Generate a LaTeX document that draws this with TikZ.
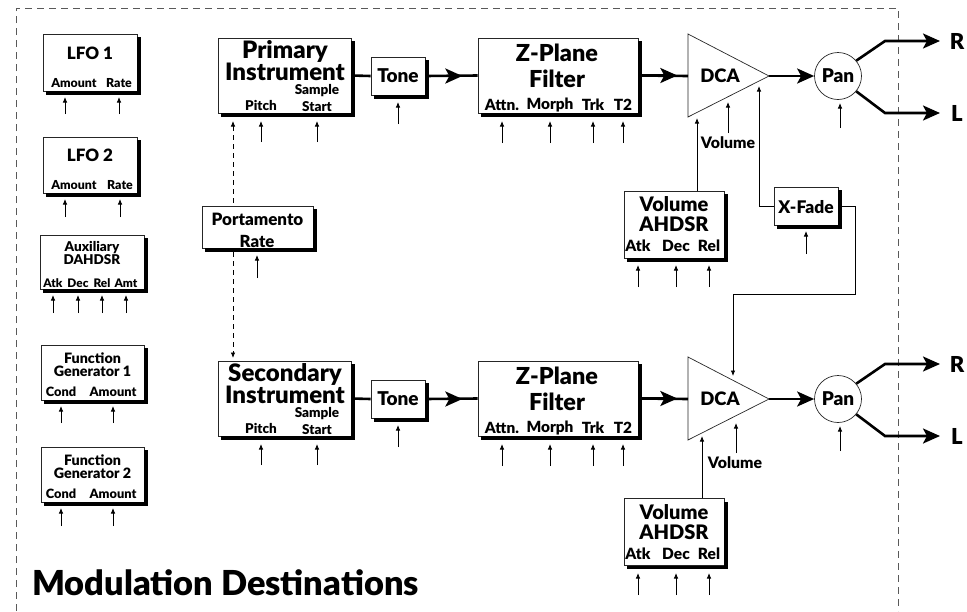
\documentclass[tikz,border=0pt]{standalone}
\usepackage{fontspec}
\setmainfont{Lato}[BoldFont={Lato Black}]
\usetikzlibrary{arrows.meta,calc}
\newcommand\myfs[1]{\fontsize{#1}{#1}\selectfont}
\begin{document}
\begin{tikzpicture}[x=1pt,y=-1pt,
  box/.style={draw=black!85, line width=0.7pt, fill=white, inner sep=0pt},
  shad/.style={draw=black, line width=3.5pt, line cap=butt, line join=miter},
  txt/.style={inner sep=0pt, font=\bfseries},
  modarr/.style={line width=0.8pt, -{Latex[length=5.5pt,width=4.5pt]}},
  thickln/.style={line width=2.6pt},
  thickarr/.style={line width=2.6pt, line join=miter, -{Stealth[length=17pt,width=15pt,inset=4pt]}},
  framel/.style={black!65, line width=0.9pt, dash pattern=on 7pt off 5pt},
  tri/.style={draw=black!85, line width=0.7pt, fill=white},
  conn/.style={line width=0.8pt}]
\useasboundingbox (0,0) rectangle (967,611);

% frame
\coordinate (fbl) at (16,611);
\coordinate (ftl) at (16,8);
\coordinate (ftr) at (898,8);
\coordinate (fbr) at (898,611);
\draw[framel] (fbl) -- (ftl) -- (ftr) -- (fbr);

% ---------- left column ----------
\node[box, minimum width=94pt, minimum height=57pt] (lfo1) at (90,62.5) {};
\node[txt] (lfo1t) at (90,53) {\myfs{17}LFO 1};
\node[txt] (lfo1a) at (74,83) {\myfs{12.4}Amount};
\node[txt] (lfo1r) at (119,83) {\myfs{12.4}Rate};
\foreach \x in {65,119} \draw[modarr] (\x,114) -- (\x,97);

\node[box, minimum width=94pt, minimum height=56pt] (lfo2) at (90,165) {};
\node[txt] (lfo2t) at (90,155) {\myfs{17}LFO 2};
\node[txt] (lfo2a) at (74,185) {\myfs{12.4}Amount};
\node[txt] (lfo2r) at (120,185) {\myfs{12.4}Rate};
\foreach \x in {65,120} \draw[modarr] (\x,217) -- (\x,199);

\node[box, minimum width=104pt, minimum height=54pt] (aux) at (92,262) {};
\node[txt] (auxt1) at (92,248) {\myfs{13.5}Auxiliary};
\node[txt] (auxt2) at (92,259.5) {\myfs{13.5}DAHDSR};
\node[txt] (auxa) at (53,283) {\myfs{11.8}Atk};
\node[txt] (auxd) at (78,283) {\myfs{11.8}Dec};
\node[txt] (auxr) at (102,283) {\myfs{11.8}Rel};
\node[txt] (auxm) at (126,283) {\myfs{11.8}Amt};
\foreach \x in {53,78,102,126} \draw[modarr] (\x,313) -- (\x,295);

\node[box, minimum width=103pt, minimum height=55pt] (fg1) at (92.5,372.5) {};
\node[txt] (fg1t1) at (92.5,358) {\myfs{14.3}Function};
\node[txt] (fg1t2) at (92.5,371) {\myfs{14.3}Generator 1};
\node[txt] (fg1c) at (61,392) {\myfs{12.8}Cond};
\node[txt] (fg1a) at (113,392) {\myfs{12.8}Amount};
\foreach \x in {61,113} \draw[modarr] (\x,423) -- (\x,406);

\node[box, minimum width=103pt, minimum height=55pt] (fg2) at (92.5,474.5) {};
\node[txt] (fg2t1) at (92.5,460) {\myfs{14.3}Function};
\node[txt] (fg2t2) at (92.5,473) {\myfs{14.3}Generator 2};
\node[txt] (fg2c) at (61,494) {\myfs{12.8}Cond};
\node[txt] (fg2a) at (113,494) {\myfs{12.8}Amount};
\foreach \x in {61,113} \draw[modarr] (\x,526) -- (\x,508);

\node[txt, anchor=west] (title) at (32,583) {\myfs{34.4}Modulation Destinations};

% ---------- portamento dashed link ----------
\coordinate (pt1) at (233,121);
\coordinate (pt2) at (233,358);
\draw[line width=0.8pt, dash pattern=on 5pt off 4pt, {Latex[length=5.5pt,width=4.5pt]}-{Latex[length=5.5pt,width=4.5pt]}] (pt1) -- (pt2);
\node[box, minimum width=111pt, minimum height=42pt] (port) at (257.5,227) {};
\node[txt] (portt) at (257.5,219) {\myfs{17}Portamento};
\node[txt] (portr) at (257,241) {\myfs{16.7}Rate};
\draw[modarr] (257,278) -- (257,255);

% ---------- two voices ----------
\foreach \v/\oy/\nm in {1/0/Primary,2/323/Secondary}{
  \node[box, minimum width=133pt, minimum height=75pt] (inst\v) at (284.5,75.5+\oy) {};
  \node[txt] (inst\v t1) at (285,51+\oy) {\myfs{24}\nm};
  \node[txt] (inst\v t2) at (285,72+\oy) {\myfs{24}Instrument};
  \node[txt] (inst\v p) at (261,105+\oy) {\myfs{13.5}Pitch};
  \node[txt] (inst\v s1) at (317,91+\oy) {\myfs{13.5}Sample};
  \node[txt] (inst\v s2) at (317,106.5+\oy) {\myfs{13.5}Start};
  \foreach \x in {261,317} \draw[modarr] (\x,142+\oy) -- (\x,121+\oy);

  \node[box, minimum width=54pt, minimum height=38pt] (tone\v) at (398,76+\oy) {};
  \node[txt] (tone\v t) at (398,76+\oy) {\myfs{19}Tone};
  \draw[modarr] (398,124+\oy) -- (398,102+\oy);

  \node[box, minimum width=160pt, minimum height=75pt] (filt\v) at (558,75.5+\oy) {};
  \node[txt] (filt\v t1) at (557,53+\oy) {\myfs{23.4}Z-Plane};
  \node[txt] (filt\v t2) at (557,79+\oy) {\myfs{23.4}Filter};
  \node[txt] (filt\v a) at (502,105+\oy) {\myfs{15.4}Attn.};
  \node[txt] (filt\v m) at (550,105+\oy) {\myfs{15.4}Morph};
  \node[txt] (filt\v k) at (593,105+\oy) {\myfs{15.4}Trk};
  \node[txt] (filt\v q) at (623,105+\oy) {\myfs{15.4}T2};
  \foreach \x in {502,550,593,623} \draw[modarr] (\x,143+\oy) -- (\x,121+\oy);

  \coordinate (dca\v a) at (688,34+\oy);
  \coordinate (dca\v b) at (688,117+\oy);
  \coordinate (dca\v tip) at (769,76+\oy);
  \coordinate (dca\v w) at (688,76+\oy);
  \draw[tri] (dca\v a) -- (dca\v tip) -- (dca\v b) -- cycle;
  \node[txt] (dca\v t) at (720,76+\oy) {\myfs{18.5}DCA};

  \node[circle, draw=black!85, line width=0.7pt, minimum size=47pt, inner sep=0pt] (pan\v) at (838,76+\oy) {};
  \node[txt] (pan\v t) at (838,76+\oy) {\myfs{19}Pan};
  \draw[modarr] (840,128+\oy) -- (840,103+\oy);

  \draw[thickln] (inst\v.east) -- (tone\v.west);
  \draw[thickln] (tone\v.east) -- (filt\v.west);
  \draw[thickarr] (tone\v.east) -- ++(37,0);
  \draw[thickln] (filt\v.east) -- (dca\v w);
  \draw[thickarr] (filt\v.east) -- ++(39,0);
  \draw[thickarr] (dca\v tip) -- (pan\v.west);

  \coordinate (r\v k) at (885,41+\oy);
  \coordinate (r\v) at (940,41+\oy);
  \coordinate (l\v k) at (885,113+\oy);
  \coordinate (l\v) at (940,113+\oy);
  \draw[thickarr] (pan\v.40) -- (r\v k) -- (r\v);
  \draw[thickarr] (pan\v.-40) -- (l\v k) -- (l\v);
  \node[txt] (r\v t) at (957,41+\oy) {\myfs{22}R};
  \node[txt] (l\v t) at (957,113+\oy) {\myfs{22}L};
}

% volume arrows and labels
\draw[modarr] (728,133) -- (728,102);
\node[txt] (vol1) at (728,143) {\myfs{15.8}Volume};
\draw[modarr] (736,453) -- (736,423);
\node[txt] (vol2) at (735,463) {\myfs{15.8}Volume};

% Volume AHDSR boxes
\foreach \v/\cy/\ty in {1/224.5/0, 2/532/308}{
  \node[box, minimum width=100pt, minimum height=67pt] (vahd\v) at (674,\cy) {};
  \node[txt] (vahd\v t1) at (674,204+\ty) {\myfs{20}Volume};
  \node[txt] (vahd\v t2) at (674,224.5+\ty) {\myfs{20}AHDSR};
  \node[txt] (vahd\v a) at (638,246+\ty) {\myfs{15.5}Atk};
  \node[txt] (vahd\v d) at (676,246+\ty) {\myfs{15.5}Dec};
  \node[txt] (vahd\v r) at (709,246+\ty) {\myfs{15.5}Rel};
  \foreach \x in {638,676,709} \draw[modarr] (\x,287+\ty) -- (\x,265+\ty);
}
\draw[modarr] (vahd1.north -| 697,0) -- (697,118);
\draw[modarr] (vahd2.north -| 702,0) -- (702,436);

% X-Fade
\node[box, minimum width=64pt, minimum height=38pt] (xf) at (806,206) {};
\node[txt] (xft) at (806,207) {\myfs{17.4}X-Fade};
\draw[modarr] (806,254) -- (806,231);
\coordinate (xfa) at (759,206);
\coordinate (xfatip) at (759,86);
\draw[conn, -{Latex[length=5.5pt,width=4.5pt]}] (xf.west) -- (xfa) -- (xfatip);
\coordinate (xfb1) at (855,206);
\coordinate (xfb2) at (855,294);
\coordinate (xfb3) at (733,294);
\coordinate (xfbtip) at (733,376);
\draw[conn, -{Latex[length=5.5pt,width=4.5pt]}] (xf.east) -- (xfb1) -- (xfb2) -- (xfb3) -- (xfbtip);

% box shadows (L-shaped bands on right and bottom)
\foreach \b in {lfo1,lfo2,aux,fg1,fg2,port,inst1,inst2,tone1,tone2,filt1,filt2,vahd1,vahd2,xf}
  \draw[shad] ($(\b.south west)+(3.5,1.75)$) -- ($(\b.south east)+(1.75,1.75)$) -- ($(\b.north east)+(1.75,3.5)$);
\end{tikzpicture}
\end{document}
